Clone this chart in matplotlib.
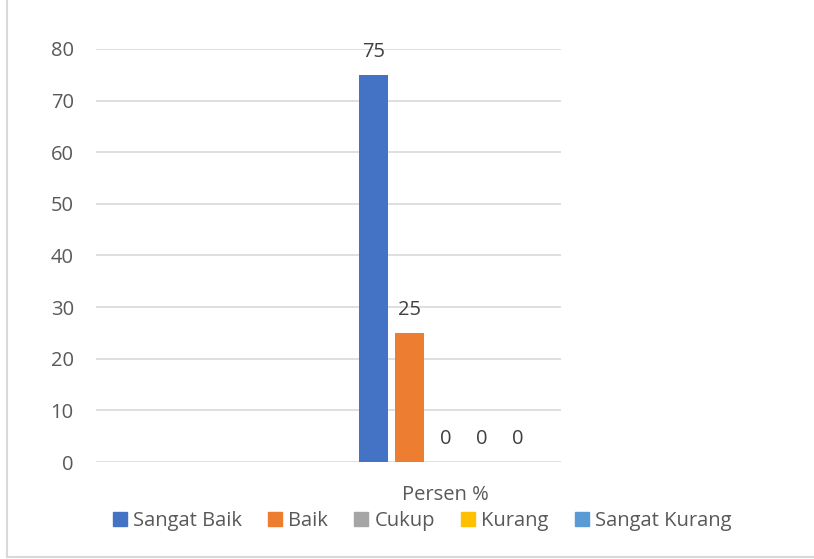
import matplotlib
matplotlib.use("Agg")
import matplotlib.pyplot as plt
from matplotlib.lines import Line2D
from matplotlib.patches import Patch

categories = ["Persen %"]
series = ["Sangat Baik", "Baik", "Cukup", "Kurang", "Sangat Kurang"]
values = [75, 25, 0, 0, 0]
colors = ["#4472C4", "#ED7D31", "#A5A5A5", "#FFC000", "#5B9BD5"]
yticks = [0, 10, 20, 30, 40, 50, 60, 70, 80]

plt.rcParams["font.family"] = ["Open Sans", "DejaVu Sans"]

W, H = 814, 559
fig = plt.figure(figsize=(W / 100, H / 100), dpi=100)
ax = fig.add_axes([96 / W, (H - 462) / H, 699 / W, 413 / H])

slot = 36 / 699
bw = 29 / 699
n = len(series)
for i, (s, v, c) in enumerate(zip(series, values, colors)):
    x = (i - (n - 1) / 2) * slot
    ax.bar(x, v, width=bw, color=c, label=s, zorder=3)
    ax.annotate(str(v), (x, v), xytext=(0, 16.5), textcoords="offset points",
                ha="center", va="center", fontsize=14.5, color="#404040")

ax.set_xlim(-0.5, 0.5)
ax.set_ylim(0, 80)
grid_right = -0.5 + (561 - 96) / 699
ax.hlines(yticks, -0.5, grid_right, color="#D9D9D9", linewidth=1.2, zorder=1)
ax.set_yticks(yticks)
ax.set_xticks([0])
ax.set_xticklabels(categories)
ax.tick_params(axis="y", length=0, pad=16, labelsize=14.5, labelcolor="#595959")
ax.tick_params(axis="x", length=0, pad=16.5, labelsize=14.5, labelcolor="#595959")
for sp in ax.spines.values():
    sp.set_visible(False)

handles = [Patch(color=c, label=s) for s, c in zip(series, colors)]
fig.legend(handles=handles, loc="center", bbox_to_anchor=(422 / W, 1 - 521 / H),
           ncol=5, frameon=False, fontsize=14.5, labelcolor="#595959",
           handlelength=0.7, handleheight=0.7, handletextpad=0.3,
           columnspacing=1.3)

fig.add_artist(Line2D([7 / W, 7 / W], [1, 1 - 557 / H], transform=fig.transFigure,
                      color="#D9D9D9", linewidth=1.5))
fig.add_artist(Line2D([7 / W, 1], [1 - 557 / H, 1 - 557 / H], transform=fig.transFigure,
                      color="#D9D9D9", linewidth=1.5))

fig.savefig("out.png", dpi=100)
